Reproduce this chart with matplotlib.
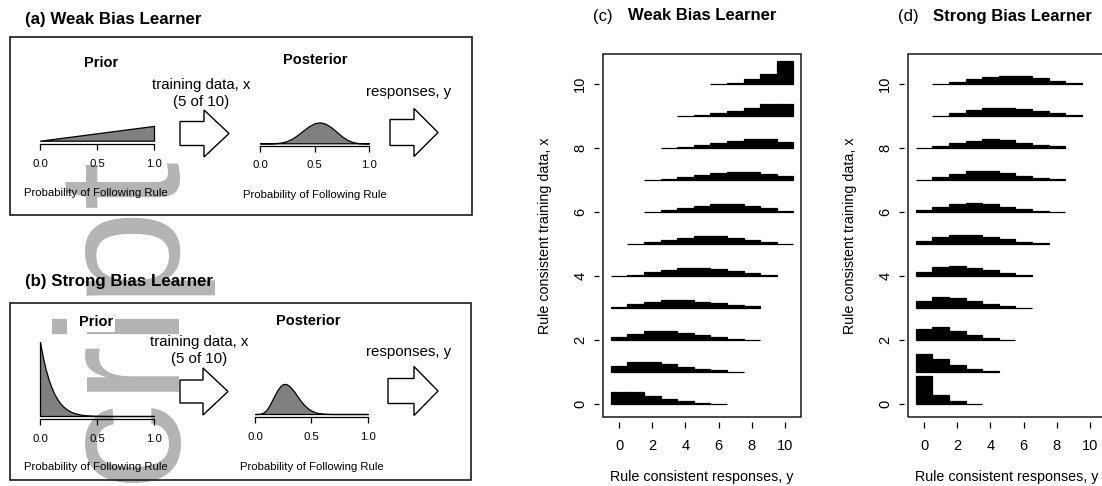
import numpy as np
import matplotlib
matplotlib.use("Agg")
import matplotlib.pyplot as plt
from matplotlib.patches import Polygon, Rectangle

plt.rcParams['font.family'] = ['Liberation Sans', 'DejaVu Sans']

# ---------------- data ----------------
prob_ticks = [0.0, 0.5, 1.0]
prob_tick_labels = ["0.0", "0.5", "1.0"]

# weak-bias prior (linear) density
weak_prior_x = [0.0, 1.0]
weak_prior_y = [0.0, 2.0]
# weak-bias posterior density
weak_post_x = [0.0, 0.05, 0.1, 0.15, 0.2, 0.25, 0.3, 0.35, 0.4, 0.45, 0.5,
               0.55, 0.6, 0.65, 0.7, 0.75, 0.8, 0.85, 0.9, 0.95, 1.0]
weak_post_y = [0.0, 0.0, 0.0, 0.03, 0.12, 0.32, 0.68, 1.18, 1.77, 2.32, 2.71,
               2.83, 2.65, 2.2, 1.59, 0.96, 0.47, 0.16, 0.03, 0.0, 0.0]
# strong-bias prior density
strong_prior_x = [0.0, 0.025, 0.05, 0.075, 0.1, 0.125, 0.15, 0.175, 0.2, 0.225,
                  0.25, 0.275, 0.3, 0.35, 0.4, 0.45, 0.5, 0.6, 0.7, 0.8, 0.9, 1.0]
strong_prior_y = [10.0, 7.96, 6.3, 4.96, 3.87, 3.01, 2.32, 1.77, 1.34, 1.01,
                  0.75, 0.55, 0.4, 0.21, 0.1, 0.05, 0.02, 0.0, 0.0, 0.0, 0.0, 0.0]
# strong-bias posterior density
strong_post_x = [0.0, 0.025, 0.05, 0.075, 0.1, 0.125, 0.15, 0.175, 0.2, 0.225,
                 0.25, 0.275, 0.3, 0.325, 0.35, 0.375, 0.4, 0.425, 0.45, 0.475,
                 0.5, 0.55, 0.6, 0.65, 0.7, 0.8, 0.9, 1.0]
strong_post_y = [0.0, 0.0, 0.035, 0.185, 0.53, 1.09, 1.82, 2.58, 3.27, 3.78,
                 4.05, 4.06, 3.83, 3.44, 2.96, 2.4, 1.87, 1.39, 1.0, 0.68,
                 0.44, 0.16, 0.05, 0.01, 0.0, 0.0, 0.0, 0.0]

responses = np.arange(11)          # rule-consistent responses, y
training = np.arange(11)           # rule-consistent training data, x
nan = np.nan
weak_hist = [
    [0.365, 0.365, 0.26, 0.156, 0.094, 0.04, 0.01, nan, nan, nan, nan],
    [0.19, 0.30, 0.30, 0.24, 0.156, 0.094, 0.05, 0.01, nan, nan, nan],
    [0.094, 0.2, 0.27, 0.27, 0.22, 0.156, 0.094, 0.04, 0.01, nan, nan],
    [0.03, 0.125, 0.2, 0.25, 0.25, 0.2, 0.146, 0.094, 0.05, nan, nan],
    [0.01, 0.04, 0.115, 0.19, 0.24, 0.24, 0.21, 0.146, 0.083, 0.02, nan],
    [nan, 0.01, 0.05, 0.125, 0.2, 0.24, 0.24, 0.19, 0.125, 0.06, 0.015],
    [nan, nan, 0.01, 0.07, 0.135, 0.2, 0.25, 0.25, 0.2, 0.125, 0.03],
    [nan, nan, 0.01, 0.02, 0.094, 0.146, 0.21, 0.26, 0.26, 0.2, 0.115],
    [nan, nan, nan, 0.01, 0.03, 0.094, 0.156, 0.22, 0.29, 0.29, 0.2],
    [nan, nan, nan, nan, 0.01, 0.02, 0.083, 0.167, 0.26, 0.365, 0.365],
    [nan, nan, nan, nan, nan, nan, 0.01, 0.03, 0.156, 0.32, 0.72],
]
strong_hist = [
    [0.885, 0.28, 0.094, 0.01, nan, nan, nan, nan, nan, nan, nan],
    [0.57, 0.42, 0.22, 0.094, 0.02, nan, nan, nan, nan, nan, nan],
    [0.35, 0.42, 0.28, 0.167, 0.073, 0.01, nan, nan, nan, nan, nan],
    [0.23, 0.34, 0.31, 0.22, 0.125, 0.06, 0.015, nan, nan, nan, nan],
    [0.135, 0.27, 0.31, 0.26, 0.18, 0.094, 0.04, nan, nan, nan, nan],
    [0.094, 0.23, 0.29, 0.29, 0.22, 0.146, 0.06, 0.02, nan, nan, nan],
    [0.05, 0.146, 0.26, 0.29, 0.25, 0.167, 0.094, 0.03, 0.01, nan, nan],
    [0.01, 0.1, 0.2, 0.27, 0.27, 0.22, 0.135, 0.07, 0.02, nan, nan],
    [0.01, 0.05, 0.156, 0.23, 0.27, 0.24, 0.167, 0.1, 0.05, nan, nan],
    [nan, 0.01, 0.11, 0.177, 0.24, 0.26, 0.21, 0.146, 0.083, 0.02, nan],
    [nan, 0.01, 0.06, 0.146, 0.22, 0.26, 0.26, 0.19, 0.094, 0.02, nan],
]
main_ticks = [0, 2, 4, 6, 8, 10]

# ---------------- figure ----------------
W, H = 1102, 486
fig = plt.figure(figsize=(W / 100, H / 100), dpi=100)
PT = 0.72  # points per pixel at 100 dpi


def axpx(l, t, r, b):
    return fig.add_axes([l / W, 1 - b / H, (r - l) / W, (b - t) / H])


def ftext(x, y, s, **kw):
    return fig.text(x / W, 1 - y / H, s, **kw)


# watermark (behind everything)
fig.text(180 / W, 1 - 161 / H, "Author Manuscript", rotation=90,
         rotation_mode='anchor', ha='right', va='baseline',
         fontsize=125, color='#b4b4b4', zorder=-5)

# overlay for frames and arrows
ov = fig.add_axes([0, 0, 1, 1])
ov.set_xlim(0, W)
ov.set_ylim(H, 0)
ov.axis('off')

for (l, t, r, b) in [(10, 37.5, 472, 215), (10, 303, 471, 480)]:
    ov.add_patch(Rectangle((l, t), r - l, b - t, fill=False, edgecolor='#1a1a1a', lw=1.2))


def arrow(x0, xh, x1, c, s, h):
    pts = [(x0, c - s), (xh, c - s), (xh, c - h), (x1, c), (xh, c + h), (xh, c + s), (x0, c + s)]
    ov.add_patch(Polygon(pts, closed=True, facecolor='white', edgecolor='black', lw=1.0))


arrow(180, 204, 229, 133.5, 12, 23.5)
arrow(390, 414, 438, 132.5, 13, 24)
arrow(180, 203, 228, 391.5, 11.5, 23.5)
arrow(388, 414, 438, 391, 12.5, 24.5)

SC = 7.4  # pixels per density unit
SMALL = 8.2


def density(l, r, base, xs, ys, ymax, off):
    ax = axpx(l, base - ymax * SC, r, base)
    ax.set_xlim(0, 1)
    ax.set_ylim(0, ymax)
    ax.fill_between(xs, 0, ys, facecolor='#808080', edgecolor='black', lw=0.9, clip_on=False)
    for s in ['top', 'left', 'right']:
        ax.spines[s].set_visible(False)
    ax.spines['bottom'].set_position(('outward', off * PT))
    ax.spines['bottom'].set_bounds(0, 1)
    ax.spines['bottom'].set_linewidth(0.9)
    ax.set_yticks([])
    ax.set_xticks(prob_ticks, prob_tick_labels)
    ax.tick_params(axis='x', length=5.5 * PT, width=0.9, pad=6.5, labelsize=SMALL)
    ax.patch.set_visible(False)
    return ax


density(40, 154, 140.7, weak_prior_x, weak_prior_y, 2.2, 3.3)
density(260, 369, 143.3, weak_post_x, weak_post_y, 3.0, 2.6)
density(40, 154, 416, strong_prior_x, strong_prior_y, 10.2, 3.3)
density(255, 368, 414, strong_post_x, strong_post_y, 4.3, 3.0)

lab_kw = dict(ha='center', va='center', fontsize=SMALL)
ftext(96, 192.5, "Probability of Following Rule", **lab_kw)
ftext(315, 195, "Probability of Following Rule", **lab_kw)
ftext(96, 467, "Probability of Following Rule", **lab_kw)
ftext(312, 466.5, "Probability of Following Rule", **lab_kw)

# panel (a)/(b) texts
ftext(25, 19.5, "(a) Weak Bias Learner", ha='left', va='center', fontsize=12.2, fontweight='bold')
ftext(25, 281.5, "(b) Strong Bias Learner", ha='left', va='center', fontsize=12.2, fontweight='bold')
ftext(101, 62.5, "Prior", ha='center', va='center', fontsize=10.5, fontweight='bold')
ftext(315, 60, "Posterior", ha='center', va='center', fontsize=10.5, fontweight='bold')
ftext(96, 322.5, "Prior", ha='center', va='center', fontsize=10.5, fontweight='bold',
      bbox=dict(facecolor='white', edgecolor='none', pad=1.5))
ftext(308, 321, "Posterior", ha='center', va='center', fontsize=10.5, fontweight='bold')
for (x, y1, y2) in [(201, 85, 102), (199, 342, 359)]:
    ftext(x, y1, "training data, x", ha='center', va='center', fontsize=10.8)
    ftext(x, y2, "(5 of 10)", ha='center', va='center', fontsize=10.8)
ftext(409, 92, "responses, y", ha='center', va='center', fontsize=10.8)
ftext(409, 352, "responses, y", ha='center', va='center', fontsize=10.8)

# ---------------- panels (c) and (d) ----------------
UX = 16.6


def main_panel(left, rows, tag, title):
    right = left + 11.9 * UX
    ax = axpx(left, 54, right, 417.3)
    ax.set_xlim(-0.95, 10.95)
    ax.set_ylim(-0.416, 10.94)
    for k, row in zip(training, rows):
        h = np.array(row, dtype=float)
        m = ~np.isnan(h)
        ax.bar(responses[m], h[m], width=1.0, bottom=k, color='black',
               edgecolor='black', linewidth=0.9)
    for s in ['top', 'right']:
        ax.spines[s].set_visible(False)
    for s in ['left', 'bottom']:
        ax.spines[s].set_position(('outward', 4.5 * PT))
        ax.spines[s].set_color('none')
    ax.add_patch(Rectangle((0, 0), 1, 1, transform=ax.transAxes, fill=False,
                           edgecolor='#1a1a1a', lw=1.1, clip_on=False))
    ax.set_xticks(main_ticks)
    ax.set_yticks(main_ticks)
    ax.tick_params(length=5.5 * PT, width=0.9, labelsize=10.5)
    ax.tick_params(axis='x', pad=8.3)
    ax.tick_params(axis='y', pad=4.3)
    for lbl in ax.get_yticklabels():
        lbl.set_rotation(90)
        lbl.set_va('center')
    ax.patch.set_visible(False)
    cx = (left + right) / 2
    ftext(cx, 477, "Rule consistent responses, y", ha='center', va='center', fontsize=10.3)
    ftext(left - 58, 235.5, "Rule consistent training data, x", ha='center', va='center',
          rotation=90, fontsize=10.3)
    ftext(left - 10.3, 17, tag, ha='left', va='center', fontsize=12)
    ftext(left + 24.7, 16, title, ha='left', va='center', fontsize=12, fontweight='bold')
    return ax


main_panel(603.3, weak_hist, "(c)", "Weak Bias Learner")
main_panel(908.3, strong_hist, "(d)", "Strong Bias Learner")

fig.savefig("out.png", dpi=100)
